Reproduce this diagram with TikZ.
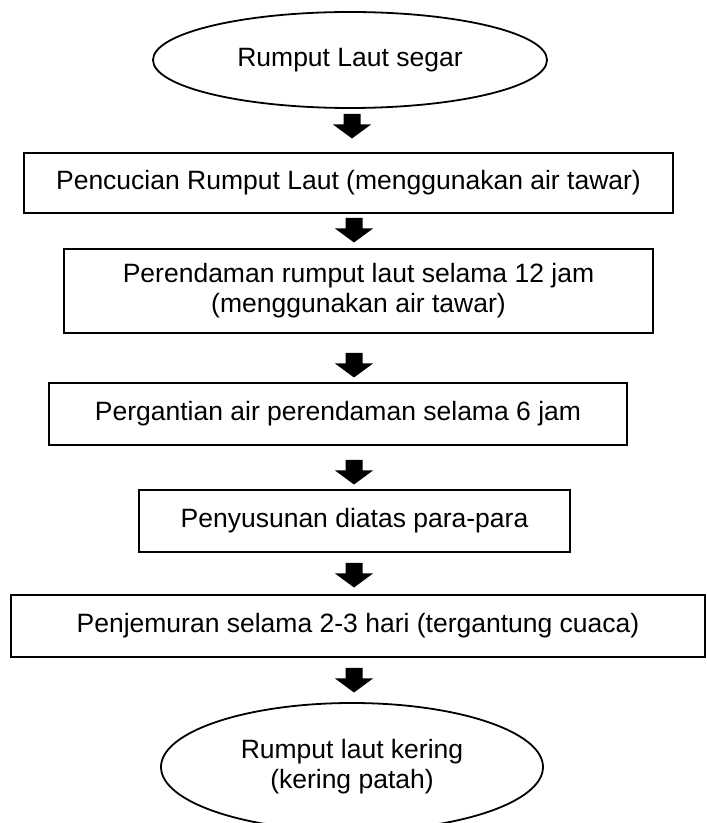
\documentclass[tikz,border=0pt]{standalone}
\usepackage{fontspec}
\setmainfont{Liberation Sans}
\usetikzlibrary{shapes.geometric}
\begin{document}
\begin{tikzpicture}[x=1pt,y=1pt,
  every node/.style={font=\fontsize{26.5}{30}\selectfont, align=center, inner sep=0pt},
  stepbox/.style={draw, line width=2pt, rectangle},
  terminal/.style={draw, line width=1.8pt, ellipse},
  blockarrow/.pic={\fill (-8.5,0) -- (8.5,0) -- (8.5,-10.5) -- (19,-10.5) -- (0,-24.5) -- (-19,-10.5) -- (-8.5,-10.5) -- cycle;}
]
\clip (0,0) rectangle (707,823);
\useasboundingbox (0,0) rectangle (707,823);
\node[terminal, minimum width=394, minimum height=96] (e1) at (350,763) {Rumput Laut segar};
\node[stepbox, minimum width=649, minimum height=60] (b1) at (348.5,640) {Pencucian Rumput Laut (menggunakan air tawar)};
\node[stepbox, minimum width=589, minimum height=84] (b2) at (358.5,532) {Perendaman rumput laut selama 12 jam\\(menggunakan air tawar)};
\node[stepbox, minimum width=578, minimum height=62] (b3) at (338,409) {Pergantian air perendaman selama 6 jam};
\node[stepbox, minimum width=431, minimum height=62] (b4) at (354.5,302) {Penyusunan diatas para-para};
\node[stepbox, minimum width=694, minimum height=62] (b5) at (358,197) {Penjemuran selama 2-3 hari (tergantung cuaca)};
\node[terminal, minimum width=382, minimum height=128] (e2) at (352,56) {Rumput laut kering\\(kering patah)};
\pic at (352,709) {blockarrow};
\pic at (354,605) {blockarrow};
\pic at (354,470) {blockarrow};
\pic at (354,363) {blockarrow};
\pic at (354,260) {blockarrow};
\pic at (354,155) {blockarrow};
\end{tikzpicture}
\end{document}
